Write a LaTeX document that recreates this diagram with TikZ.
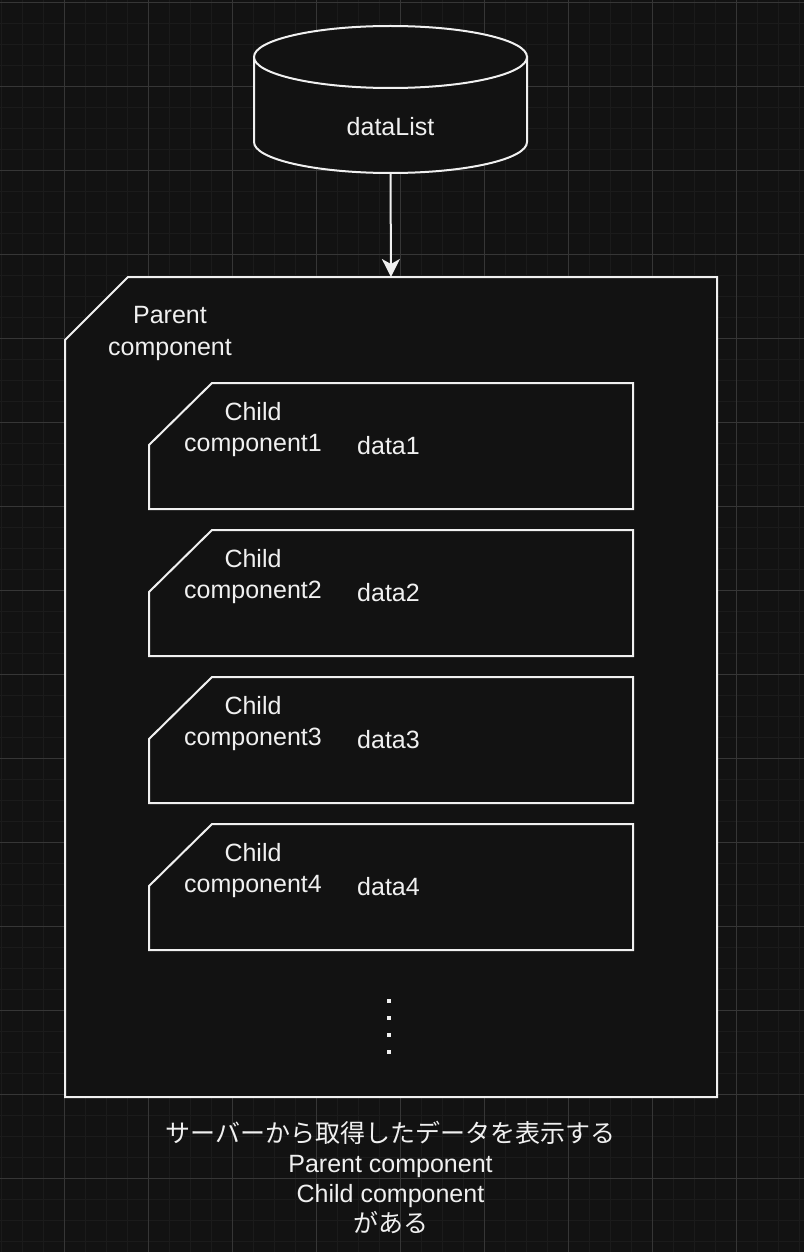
\documentclass[tikz,border=0pt]{standalone}
\usepackage{fontspec}
\setmainfont{Liberation Sans}
\newfontfamily\cjk{Noto Sans CJK JP}
\usetikzlibrary{arrows.meta,calc}
\definecolor{bg}{HTML}{121212}
\definecolor{gridminor}{HTML}{1B1B1B}
\definecolor{gridmajor}{HTML}{363636}
\definecolor{ink}{HTML}{F0F0F0}

\begin{document}
\begin{tikzpicture}[x=1pt,y=-1pt,
    box/.style={draw=ink,fill=bg,line width=2pt},
    frame/.style={inner sep=0pt,outer sep=0pt},
    lbl/.style={text=ink,font=\fontsize{25}{31}\selectfont,align=center,inner sep=0pt},
    arrow/.style={draw=ink,line width=2pt,-{Stealth[length=18pt,width=18pt,inset=5pt]}}]
    % canvas and grid
    \fill[bg] (0,0) rectangle (804,1252);
    \useasboundingbox (0,0) rectangle (804,1252);
    \foreach \x in {1.7,22.7,...,804}{
        \draw[gridminor,line width=1.5pt] (\x,0) -- (\x,1252);
    }
    \foreach \y in {2.3,23.3,...,1252}{
        \draw[gridminor,line width=1.5pt] (0,\y) -- (804,\y);
    }
    \foreach \x in {64.7,148.7,...,804}{
        \draw[gridmajor,line width=1pt] (\x,0) -- (\x,1252);
    }
    \foreach \y in {2.3,86.3,...,1252}{
        \draw[gridmajor,line width=1pt] (0,\y) -- (804,\y);
    }
    % dataList store
    \node[frame,minimum width=273pt,minimum height=147pt] (db) at (390.5,99.5) {};
    \draw[box] (254,57) -- (254,142) arc[start angle=180,end angle=0,x radius=136.5,y radius=31] -- (527,57) -- cycle;
    \draw[box] (390.5,57) ellipse[x radius=136.5,y radius=31];
    \node[lbl] (dblabel) at (390.5,127) {dataList};
    % parent component
    \node[frame,minimum width=652pt,minimum height=820pt,anchor=north west] (parent) at (65,277) {};
    \draw[box] ($(parent.north west)+(63,0)$) -- (parent.north east) -- (parent.south east)
        -- (parent.south west) -- ($(parent.north west)+(0,63)$) -- cycle;
    \node[lbl,font=\fontsize{25}{32}\selectfont] (parentlbl) at (170,333.5) {Parent\\component};
    \draw[arrow] (db.south) -- (parent.north);
    % child components
    \foreach \i/\t in {1/383,2/530,3/677,4/824}{
        \node[frame,minimum width=484pt,minimum height=126pt,anchor=north west] (child\i) at (149,\t) {};
        \draw[box] ($(child\i.north west)+(63,0)$) -- (child\i.north east) -- (child\i.south east)
            -- (child\i.south west) -- ($(child\i.north west)+(0,62)$) -- cycle;
        \node[lbl] (childlbl\i) at (253,\t+46.5) {Child\\component\i};
        \node[lbl] (data\i) at (388.5,\t+62.5) {data\i};
    }
    % more children
    \foreach \y in {1001,1018,1035,1052}{
        \fill[ink] (386.7,\y-2.3) rectangle (391.3,\y+2.3);
    }
    % caption
    \node[lbl,font=\fontsize{25}{30}\selectfont] (caption) at (390.5,1177)
        {{\cjk サーバーから取得したデータを表示する}\\Parent component\\Child component\\{\cjk がある}};
\end{tikzpicture}
\end{document}
